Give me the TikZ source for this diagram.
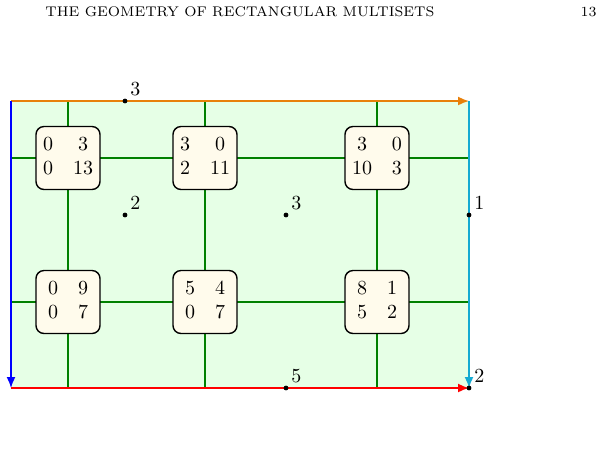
\documentclass[tikz,border=0pt]{standalone}
\usepackage{amsmath}
\usetikzlibrary{arrows.meta}
\definecolor{cellbg}{RGB}{230,255,230}
\definecolor{boxbg}{RGB}{255,251,236}
\definecolor{gridgreen}{RGB}{0,128,0}
\definecolor{edgeorange}{RGB}{232,128,10}
\definecolor{edgecyan}{RGB}{20,170,210}
\tikzset{
    region/.style={fill=cellbg,draw=none},
    gridline/.style={gridgreen,line width=0.6pt},
    edgevec/.style={-{Latex[length=5.5pt,width=4.5pt]},line width=0.8pt},
    cellbox/.style={draw=black,line width=0.7pt,fill=boxbg,rounded corners=4pt,
        minimum width=32pt,minimum height=31.5pt,inner sep=0pt},
    vertpt/.style={circle,fill=black,inner sep=0pt,minimum size=2.4pt},
    ptlabel/.style={inner sep=1.5pt}
}

\begin{document}
\begin{tikzpicture}[x=0.5pt,y=-0.5pt]
    \useasboundingbox (0,0) rectangle (604,473);
    % Running head
    \node[anchor=west,inner sep=0pt] (head) at (45,12)
        {\fontsize{7}{8}\selectfont THE GEOMETRY OF RECTANGULAR MULTISETS};
    \node[anchor=east,inner sep=0pt] (pagenum) at (597,12)
        {\fontsize{7}{8}\selectfont 13};
    % Corners
    \coordinate (nw) at (11,101);
    \coordinate (ne) at (469,101);
    \coordinate (sw) at (11,388);
    \coordinate (se) at (469,388);
    % Region
    \fill[region] (nw) rectangle (se);
    % Grid
    \foreach \x in {68,205,377}
        \draw[gridline] (\x,101) -- (\x,388);
    \foreach \y in {158,302}
        \draw[gridline] (11,\y) -- (469,\y);
    % Boundary
    \draw[edgevec,edgeorange] (nw) -- (ne);
    \draw[edgevec,blue] (nw) -- (sw);
    \draw[edgevec,edgecyan] (ne) -- (se);
    \draw[edgevec,red] (sw) -- (se);
    % Cells
    \node[cellbox] (c11) at (68,158) {$\begin{matrix}0&3\\0&13\end{matrix}$};
    \node[cellbox] (c12) at (205,158) {$\begin{matrix}3&0\\2&11\end{matrix}$};
    \node[cellbox] (c13) at (377,158) {$\begin{matrix}3&0\\10&3\end{matrix}$};
    \node[cellbox] (c21) at (68,302) {$\begin{matrix}0&9\\0&7\end{matrix}$};
    \node[cellbox] (c22) at (205,302) {$\begin{matrix}5&4\\0&7\end{matrix}$};
    \node[cellbox] (c23) at (377,302) {$\begin{matrix}8&1\\5&2\end{matrix}$};
    % Marked points
    \node[vertpt,label={[ptlabel]above right:$3$}] (ptop) at (125,101) {};
    \node[vertpt,label={[ptlabel]above right:$2$}] (pleft) at (125,215) {};
    \node[vertpt,label={[ptlabel]above right:$3$}] (pmid) at (286,215) {};
    \node[vertpt,label={[ptlabel]above right:$1$}] (pright) at (469,215) {};
    \node[vertpt,label={[ptlabel]above right:$5$}] (pbot) at (286,388) {};
    \node[vertpt,label={[ptlabel]above right:$2$}] (pcorner) at (se) {};
\end{tikzpicture}
\end{document}
